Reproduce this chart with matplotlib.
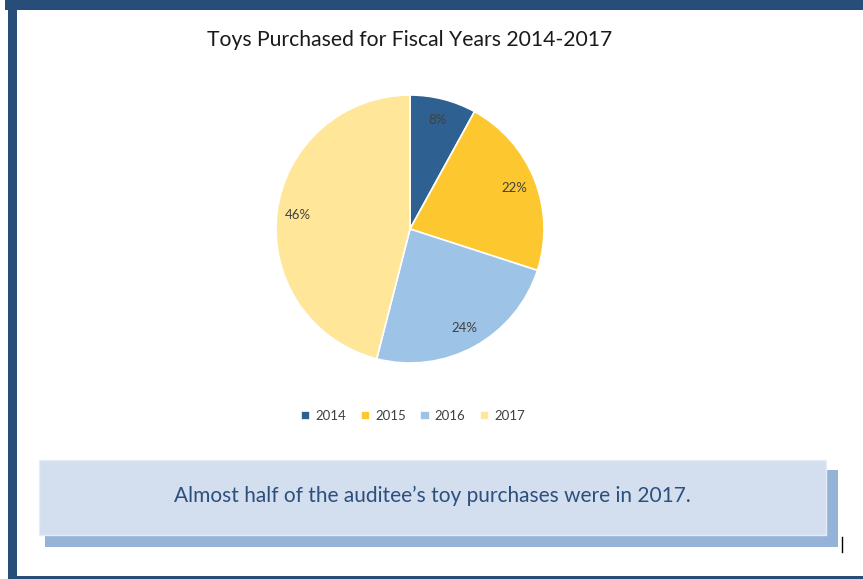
import matplotlib
matplotlib.use("Agg")
import matplotlib.pyplot as plt
from matplotlib.patches import Rectangle

years = ["2014", "2015", "2016", "2017"]
shares = [8, 22, 24, 46]
colors = ["#2e6191", "#fdc82f", "#9dc3e6", "#ffe699"]
title = "Toys Purchased for Fiscal Years 2014-2017"
note = "Almost half of the auditee\u2019s toy purchases were in 2017."

W, H = 863, 579
plt.rcParams['font.family'] = ['Lato', 'DejaVu Sans']
fig = plt.figure(figsize=(W / 100, H / 100), dpi=100)

# decoration axes in pixel coordinates
bg = fig.add_axes([0, 0, 1, 1])
bg.set_xlim(0, W)
bg.set_ylim(H, 0)
bg.axis('off')
border = "#264e78"
bg.add_patch(Rectangle((5, 0), W, 10, color=border, lw=0))
bg.add_patch(Rectangle((8, 0), 8.5, H, color=border, lw=0))
bg.add_patch(Rectangle((8, 576), W, 5, color=border, lw=0))
# text box with shadow
bg.add_patch(Rectangle((45, 470), 793, 77, color="#95b3d7", lw=0))
bg.add_patch(Rectangle((39, 460), 787, 75, facecolor="#d3deee", edgecolor="#e6edf6", lw=1))
bg.text(432, 496, note, ha='center', va='center', fontsize=15, color="#2c4f7c")
bg.plot([842, 842], [537, 552], color='black', lw=1)
bg.text(410, 40, title, ha='center', va='center', fontsize=15.2, color="#1a1a1a")

# pie
cx, cy, r = 410, 229, 134
ax = fig.add_axes([(cx - r) / W, 1 - (cy + r) / H, 2 * r / W, 2 * r / H])
wedges, texts, autotexts = ax.pie(
    shares, colors=colors, startangle=90, counterclock=False,
    autopct='%1.0f%%', pctdistance=0.84,
    wedgeprops=dict(edgecolor='white', linewidth=1.2),
    textprops=dict(fontsize=9.5, color="#404040"))
ax.set_xlim(-1, 1)
ax.set_ylim(-1, 1)
ax.set_aspect('equal')
ax.axis('off')

fig.legend(wedges, years, loc='center', bbox_to_anchor=(413 / W, 1 - 416 / H),
           ncol=4, frameon=False, fontsize=9.5, handlelength=0.7, handleheight=0.7,
           handletextpad=0.4, columnspacing=1.1, labelcolor="#404040")

fig.savefig("out.png", dpi=100)
